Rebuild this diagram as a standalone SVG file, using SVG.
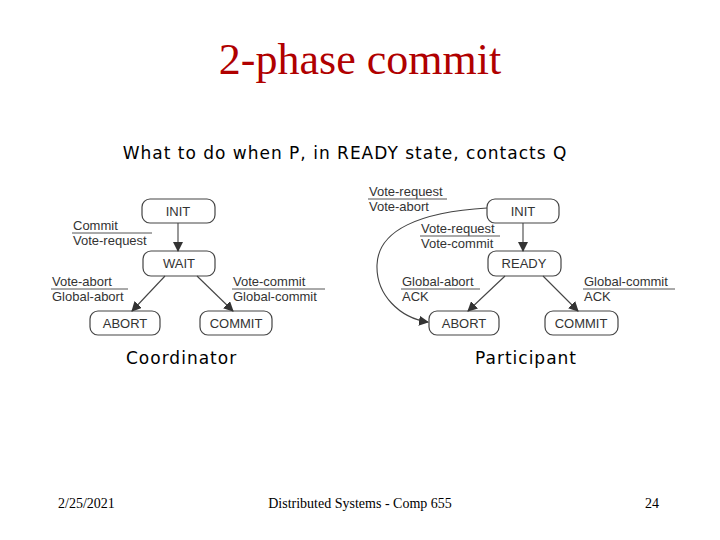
<svg xmlns="http://www.w3.org/2000/svg" width="720" height="540" viewBox="0 0 720 540">
<style>
.n rect{fill:#fff;stroke:#444;stroke-width:1.2}
.n text,.lb{font-family:"Liberation Sans",Arial,sans-serif;font-size:13px;fill:#333}
.n text{text-anchor:middle}
.e{stroke:#444;stroke-width:1.1;fill:none}
.ul{stroke:#555;stroke-width:1}
.ft{font-family:"Liberation Serif","Times New Roman",serif;font-size:14px;fill:#000}
.sub{font-family:"DejaVu Sans",sans-serif;font-size:17px;fill:#000;letter-spacing:1px}
</style>
<defs><marker id="a" markerWidth="10" markerHeight="10" refX="9" refY="5" orient="auto" markerUnits="userSpaceOnUse"><path d="M0,0 L10,5 L0,10 z" fill="#333"/></marker></defs>
<rect width="720" height="540" fill="#fff"/>
<text x="360" y="74" text-anchor="middle" font-family="Liberation Serif,serif" font-size="44" fill="#b00000">2-phase commit</text>
<text class="sub" x="345" y="159" text-anchor="middle">What to do when P, in READY state, contacts Q</text>
<g id="c-init" class="n"><rect x="142" y="199" width="73" height="24" rx="8"/><text x="178" y="216">INIT</text></g>
<g id="c-wait" class="n"><rect x="143" y="251" width="72" height="25" rx="8"/><text x="179" y="268">WAIT</text></g>
<g id="c-abort" class="n"><rect x="90" y="311" width="70" height="24" rx="8"/><text x="125" y="328">ABORT</text></g>
<g id="c-commit" class="n"><rect x="200" y="311" width="72" height="24" rx="8"/><text x="236" y="328">COMMIT</text></g>
<g id="p-init" class="n"><rect x="487" y="199" width="72" height="24" rx="8"/><text x="523" y="216">INIT</text></g>
<g id="p-ready" class="n"><rect x="488" y="251" width="73" height="25" rx="8"/><text x="524" y="268">READY</text></g>
<g id="p-abort" class="n"><rect x="429" y="311" width="70" height="24" rx="8"/><text x="464" y="328">ABORT</text></g>
<g id="p-commit" class="n"><rect x="545" y="311" width="73" height="24" rx="8"/><text x="581" y="328">COMMIT</text></g>
<g id="connectors">
<path class="e" d="M178,223 L178,251" marker-end="url(#a)"/>
<path class="e" d="M165,276 L132,311" marker-end="url(#a)"/>
<path class="e" d="M197,276 L233,311" marker-end="url(#a)"/>
<path class="e" d="M523,223 L523,251" marker-end="url(#a)"/>
<path class="e" d="M505,276 L468,311" marker-end="url(#a)"/>
<path class="e" d="M543,276 L578,311" marker-end="url(#a)"/>
<path class="e" d="M487,208 C420,212 378,230 377,265 C376,295 400,318 428,322" marker-end="url(#a)"/>
</g>
<g id="labels">
<text class="lb" x="73" y="230">Commit</text><line class="ul" x1="72" y1="233" x2="152" y2="233"/><text class="lb" x="73" y="245">Vote-request</text>
<text class="lb" x="52" y="286">Vote-abort</text><line class="ul" x1="51" y1="289" x2="128" y2="289"/><text class="lb" x="52" y="301">Global-abort</text>
<text class="lb" x="233" y="286">Vote-commit</text><line class="ul" x1="232" y1="289" x2="325" y2="289"/><text class="lb" x="233" y="301">Global-commit</text>
<text class="lb" x="369" y="196">Vote-request</text><line class="ul" x1="368" y1="199" x2="447" y2="199"/><text class="lb" x="369" y="211">Vote-abort</text>
<text class="lb" x="421" y="233">Vote-request</text><line class="ul" x1="420" y1="236" x2="500" y2="236"/><text class="lb" x="421" y="248">Vote-commit</text>
<text class="lb" x="402" y="286">Global-abort</text><line class="ul" x1="401" y1="289" x2="480" y2="289"/><text class="lb" x="402" y="301">ACK</text>
<text class="lb" x="584" y="286">Global-commit</text><line class="ul" x1="583" y1="289" x2="675" y2="289"/><text class="lb" x="584" y="301">ACK</text>
</g>
<text class="sub" x="126" y="364">Coordinator</text>
<text class="sub" x="475" y="364">Participant</text>
<text class="ft" x="58" y="508">2/25/2021</text>
<text class="ft" x="360" y="508" text-anchor="middle">Distributed Systems - Comp 655</text>
<text class="ft" x="659" y="508" text-anchor="end">24</text>
</svg>
